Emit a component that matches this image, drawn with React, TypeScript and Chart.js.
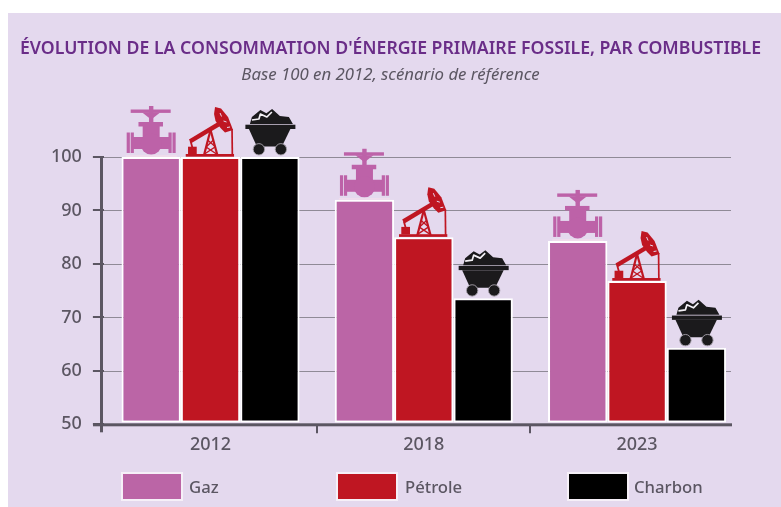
import React, { useEffect, useRef } from "react";
import { Chart, registerables } from "chart.js";

Chart.register(...registerables);

const categories = ["2012", "2018", "2023"];
const gaz = [100, 92, 84.3];
const petrole = [100, 85, 76.8];
const charbon = [100, 73.6, 64.3];
const yTicks = [50, 60, 70, 80, 90, 100];
const titleText = "ÉVOLUTION DE LA CONSOMMATION D'ÉNERGIE PRIMAIRE FOSSILE, PAR COMBUSTIBLE";
const subtitleText = "Base 100 en 2012, scénario de référence";
const GAZ = "#bb65a6";
const PET = "#bf1622";
const CHA = "#000000";
const PANEL = "#e4d9ee";
const INK = "#5b5662";
const FONT = "'Noto Sans', sans-serif";

function poly(ctx: CanvasRenderingContext2D, pts: number[][]) {
  ctx.beginPath();
  pts.forEach((p, i) => (i ? ctx.lineTo(p[0], p[1]) : ctx.moveTo(p[0], p[1])));
  ctx.closePath();
  ctx.fill();
}
function seg(ctx: CanvasRenderingContext2D, a: number[], b: number[], w: number) {
  ctx.lineWidth = w;
  ctx.beginPath();
  ctx.moveTo(a[0], a[1]);
  ctx.lineTo(b[0], b[1]);
  ctx.stroke();
}

function valve(ctx: CanvasRenderingContext2D) {
  ctx.fillStyle = "#bd62a8";
  ctx.fillRect(-20.5, -47.5, 40, 3.4);
  ctx.fillRect(-2.2, -51, 4.4, 24);
  poly(ctx, [[-9, -44.5], [9, -44.5], [0, -37.5]]);
  ctx.fillRect(-12.7, -35, 24.5, 4.5);
  ctx.fillRect(-8.5, -31, 17, 14);
  ctx.fillRect(-19, -20, 38, 12);
  ctx.beginPath();
  ctx.arc(0, -13, 10.5, 0, Math.PI * 2);
  ctx.fill();
  ctx.fillRect(-24.5, -24.5, 3.2, 20.5);
  ctx.fillRect(-20.5, -24.5, 3.2, 20.5);
  ctx.fillRect(17.3, -24.5, 3.2, 20.5);
  ctx.fillRect(21.3, -24.5, 3.2, 20.5);
  ctx.fillStyle = "#f0dcec";
  ctx.fillRect(-25.5, -1.8, 51, 1.8);
}

function pump(ctx: CanvasRenderingContext2D) {
  ctx.fillStyle = PET;
  ctx.strokeStyle = PET;
  poly(ctx, [
    [4.5, -50], [10.5, -48.5], [17.5, -40], [22.5, -27], [14.5, -24.5],
    [10, -29], [5, -36], [3.5, -43],
  ]);
  ctx.strokeStyle = PANEL;
  seg(ctx, [9.5, -44], [11, -40.5], 1);
  seg(ctx, [13, -36], [16, -35], 1);
  seg(ctx, [16.5, -29.5], [19.5, -30], 1);
  ctx.strokeStyle = PET;
  seg(ctx, [-20.5, -15.7], [8.5, -33], 4.4);
  seg(ctx, [21.5, -28], [21.8, -2], 1.7);
  seg(ctx, [0, -27], [-6.5, -2], 2.2);
  seg(ctx, [0, -27], [6.8, -2], 2.2);
  seg(ctx, [-3, -17], [4, -11], 1.4);
  seg(ctx, [3, -17], [-4.5, -10], 1.4);
  seg(ctx, [-4.5, -10], [6, -3], 1.4);
  seg(ctx, [4.5, -10], [-6, -3], 1.4);
  seg(ctx, [-20, -16], [-18, -9], 1.8);
  ctx.fillRect(-24.8, -3, 48.3, 2.7);
  ctx.fillRect(-22.5, -10.3, 8.7, 7.5);
}

function cart(ctx: CanvasRenderingContext2D) {
  ctx.fillStyle = "#1b1a1c";
  poly(ctx, [
    [-20, -33], [-18, -40], [-9.5, -47], [-3.5, -43.7], [2.2, -48], [10, -41], [19, -40], [23, -33],
  ]);
  ctx.strokeStyle = "#f4f1f6";
  ctx.lineJoin = "round";
  ctx.lineWidth = 1.7;
  ctx.beginPath();
  ctx.moveTo(-18, -37);
  ctx.lineTo(-11, -38);
  ctx.lineTo(-9.5, -43);
  ctx.lineTo(-3, -40);
  ctx.lineTo(2, -45);
  ctx.stroke();
  ctx.fillRect(-24.5, -32.3, 50, 4.3);
  poly(ctx, [[-21, -28], [20.5, -28], [12, -10.5], [-13, -10.5]]);
  for (const x of [-11, 11]) {
    ctx.beginPath();
    ctx.arc(x, -7.7, 5.7, 0, Math.PI * 2);
    ctx.fillStyle = "#1b1a1c";
    ctx.fill();
    ctx.strokeStyle = "#a8a3ad";
    ctx.lineWidth = 0.9;
    ctx.stroke();
  }
}

const painters = [valve, pump, cart];

const legendAt = [
  { box: 123, text: 189 },
  { box: 338, text: 405 },
  { box: 569, text: 634 },
];

const decor = {
  id: "decor",
  beforeDraw(chart: any) {
    const { ctx, scales } = chart;
    const y = scales.y;
    ctx.save();
    ctx.strokeStyle = "#8f8a96";
    ctx.lineWidth = 1;
    yTicks.slice(1).forEach((v) => {
      const py = Math.round(y.getPixelForValue(v)) + 0.5;
      ctx.beginPath();
      ctx.moveTo(101, py);
      ctx.lineTo(731, py);
      ctx.stroke();
    });
    ctx.restore();
  },
  afterDatasetsDraw(chart: any) {
    const { ctx, scales } = chart;
    const y = scales.y;
    const y0 = y.getPixelForValue(50);
    ctx.save();
    chart.data.datasets.forEach((_: any, d: number) => {
      chart.getDatasetMeta(d).data.forEach((bar: any) => {
        ctx.save();
        ctx.translate(bar.x, bar.y);
        painters[d](ctx);
        ctx.restore();
      });
    });
    ctx.fillStyle = INK;
    ctx.fillRect(100, y.getPixelForValue(100), 3, y0 + 8 - y.getPixelForValue(100));
    ctx.fillRect(93, y0 - 1, 639, 3);
    chart.data.datasets.forEach((ds: any, d: number) => {
      const at = legendAt[d];
      ctx.fillStyle = "#f6f0f8";
      ctx.fillRect(at.box - 2, 472, 62, 29);
      ctx.fillStyle = ds.backgroundColor;
      ctx.fillRect(at.box, 474, 58, 25);
      ctx.fillStyle = INK;
      ctx.font = `500 16.7px ${FONT}`;
      ctx.textAlign = "left";
      ctx.textBaseline = "middle";
      ctx.fillText(ds.label, at.text, 488);
    });
    ctx.restore();
  },
};

export default function App() {
  const ref = useRef<HTMLCanvasElement>(null);
  useEffect(() => {
    const common = {
      borderColor: "#ffffff",
      borderWidth: 2,
      borderSkipped: false,
      base: 50.35,
      categoryPercentage: 0.835,
      barPercentage: 1,
    };
    const chart = new Chart(ref.current as HTMLCanvasElement, {
      type: "bar",
      data: {
        labels: categories,
        datasets: [
          { label: "Gaz", data: gaz, backgroundColor: GAZ, ...common },
          { label: "Pétrole", data: petrole, backgroundColor: PET, ...common },
          { label: "Charbon", data: charbon, backgroundColor: CHA, ...common },
        ],
      },
      plugins: [decor],
      options: {
        animation: false,
        responsive: false,
        layout: { padding: 0 },
        plugins: {
          legend: { display: false },
          tooltip: { enabled: false },
          title: {
            display: true,
            text: titleText,
            color: "#6a2d88",
            font: { family: FONT, size: 17.7, weight: "600", lineHeight: 1.2 },
            padding: { top: 38, bottom: 0 },
          },
          subtitle: {
            display: true,
            text: subtitleText,
            color: INK,
            font: { family: FONT, size: 16.8, style: "italic", lineHeight: 1.2 },
            padding: { top: 6, bottom: 71.6 },
          },
        },
        scales: {
          x: {
            afterFit: (s: any) => { s.height = 82.7; },
            grid: {
              drawOnChartArea: false,
              tickLength: 9,
              lineWidth: 2,
              tickColor: (c: any) => (c.index === 1 || c.index === 2 ? INK : "transparent"),
            },
            border: { display: false },
            ticks: { color: INK, padding: 1, font: { family: FONT, size: 18, weight: "500" } },
          },
          y: {
            min: 50,
            max: 100,
            afterFit: (s: any) => { s.width = 103.9; },
            afterBuildTicks: (s: any) => { s.ticks = yTicks.map((value) => ({ value })); },
            grid: { drawOnChartArea: false, tickLength: 11, lineWidth: 2, tickColor: INK },
            border: { display: false },
            ticks: { color: INK, padding: 11, font: { family: FONT, size: 18, weight: "500" } },
          },
          gutter: {
            position: "right",
            afterFit: (s: any) => { s.width = 37.3; },
            grid: { display: false },
            border: { display: false },
            ticks: { display: false },
          },
        },
      },
    } as any);
    return () => chart.destroy();
  }, []);
  return (
    <div style={{ position: "fixed", inset: 0, width: 781, height: 507, background: "#fff", overflow: "hidden" }}>
      <div style={{ position: "absolute", left: 8, top: 13, right: 0, bottom: 0, background: PANEL }} />
      <canvas ref={ref} width={781} height={507} style={{ position: "absolute", left: 0, top: 0 }} />
    </div>
  );
}
